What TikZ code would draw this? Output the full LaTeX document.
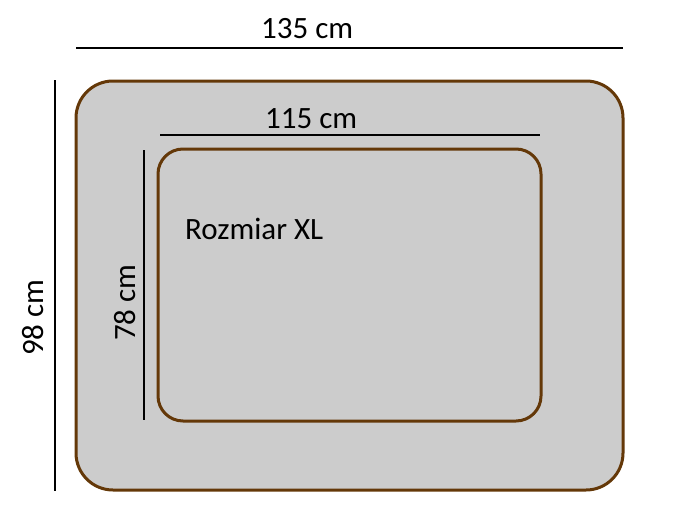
\documentclass[tikz,border=0pt]{standalone}
\usepackage{fontspec}
\setmainfont{Carlito}
\usepackage{tikz}
\usetikzlibrary{positioning}

\definecolor{padbrown}{RGB}{100,56,8}
\definecolor{padgray}{RGB}{204,204,204}

\tikzset{
  pad/.style = {draw = padbrown, fill = padgray, line width = 3pt},
  dimline/.style = {draw = black, line width = 2pt},
  dimtext/.style = {inner sep = 0pt, anchor = base west,
    font = \fontsize{31}{37}\selectfont}
}

\begin{document}
\begin{tikzpicture}[x = 1pt, y = -1pt]
  \useasboundingbox (0,0) rectangle (700,511);

  % pads
  \draw [pad, rounded corners = 37pt] (76,81) rectangle (623,490);
  \draw [pad, rounded corners = 25pt] (158,149) rectangle (541,421);

  % dimension lines
  \coordinate (w1) at (76,48);   \coordinate (w2) at (623,48);
  \coordinate (v1) at (160,135); \coordinate (v2) at (540,135);
  \coordinate (h1) at (55,80);   \coordinate (h2) at (55,491);
  \coordinate (k1) at (144,150); \coordinate (k2) at (144,420);
  \draw [dimline] (w1) -- (w2);
  \draw [dimline] (v1) -- (v2);
  \draw [dimline] (h1) -- (h2);
  \draw [dimline] (k1) -- (k2);

  % labels
  \node [dimtext] (outerw) at (261,38) {135 cm};
  \node [dimtext] (innerw) at (265,128) {115 cm};
  \node [dimtext, rotate = 90] (outerh) at (43,356) {98 cm};
  \node [dimtext, rotate = 90] (innerh) at (135,341) {78 cm};
  \node [dimtext] (size) at (185,239) {Rozmiar XL};
\end{tikzpicture}
\end{document}
